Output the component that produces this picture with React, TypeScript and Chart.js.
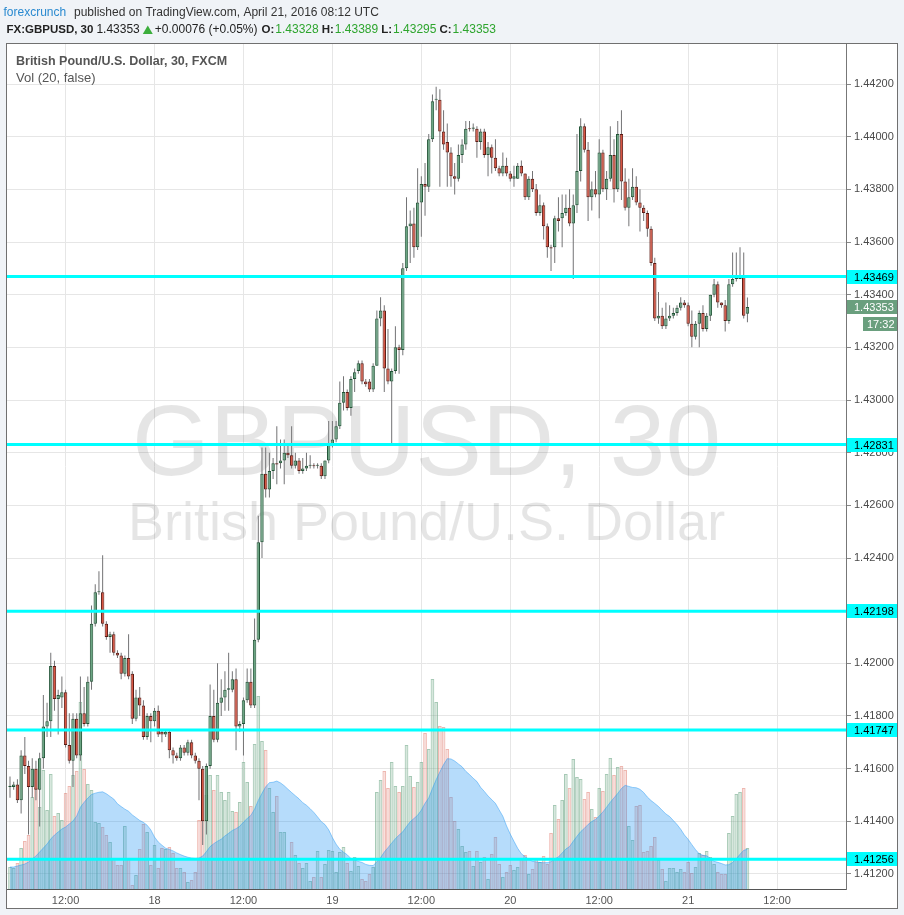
import React, { useEffect, useRef } from "react";
import { Chart, registerables } from "chart.js";

Chart.register(...registerables);

// ---------- data (30-minute candles, GBPUSD) ----------
const open = [
  1.4153, 1.4153, 1.4154, 1.4148, 1.4165, 1.4161, 1.4153, 1.416, 1.4152, 1.4164,
  1.4176, 1.4178, 1.4199, 1.41865, 1.4187, 1.4189, 1.4169, 1.4163, 1.4179, 1.4165,
  1.4181, 1.4177, 1.4193, 1.4215, 1.4227, 1.4227, 1.4215, 1.421, 1.4211, 1.4204,
  1.4203, 1.4196, 1.4202, 1.4196, 1.4179, 1.4187, 1.4184, 1.4172, 1.418, 1.4178,
  1.4182, 1.4174, 1.4173, 1.4174, 1.4167, 1.4165, 1.4164, 1.4168, 1.4166, 1.417,
  1.4165, 1.4163, 1.416, 1.414, 1.4161, 1.418, 1.4171, 1.4185, 1.4187, 1.419,
  1.419, 1.4194, 1.4176, 1.4177, 1.4186, 1.4193, 1.4184, 1.4209, 1.4246, 1.4272,
  1.4266, 1.4273, 1.4276, 1.4276, 1.4277, 1.428, 1.4279, 1.4275, 1.4277, 1.4273,
  1.4274, 1.4275, 1.4275, 1.4275, 1.4275, 1.4271, 1.4277, 1.4283, 1.4285, 1.429,
  1.4299, 1.4303, 1.4297, 1.4308, 1.4311, 1.4314, 1.4307, 1.4307, 1.4304, 1.4313,
  1.4331, 1.4334, 1.4312, 1.4307, 1.4311, 1.432, 1.4319, 1.435, 1.4366, 1.4367,
  1.4358, 1.4375, 1.4382, 1.4381, 1.4399, 1.4414, 1.4414, 1.4402, 1.4398, 1.4394,
  1.4385, 1.4384, 1.4393, 1.4397, 1.4403, 1.4403, 1.4403, 1.4398, 1.4402, 1.4393,
  1.4396, 1.4392, 1.4388, 1.4386, 1.4389, 1.4386, 1.4384, 1.4384, 1.4389, 1.4386,
  1.4377, 1.4384, 1.438, 1.4371, 1.4374, 1.4366, 1.4358, 1.4358, 1.4369, 1.4369,
  1.4371, 1.4373, 1.4367, 1.4374, 1.4387, 1.4404, 1.4395, 1.4377, 1.438, 1.4378,
  1.4394, 1.438, 1.4384, 1.4393, 1.438, 1.4401, 1.4383, 1.4373, 1.4377, 1.4381,
  1.4375, 1.4373, 1.4371, 1.4365, 1.4352, 1.4331, 1.4332, 1.4328, 1.4331, 1.4332,
  1.4333, 1.4335, 1.4337, 1.4336, 1.4329, 1.4324, 1.4329, 1.4333, 1.4327, 1.4332,
  1.434, 1.4344, 1.4337, 1.4336, 1.433, 1.4344, 1.4346, 1.4346, 1.4347, 1.43328,
];
const high = [
  1.4157, 1.4155, 1.4156, 1.4167, 1.4172, 1.4163, 1.4164, 1.4163, 1.4166, 1.4188,
  1.4185, 1.4204, 1.4201, 1.419, 1.4195, 1.419, 1.4181, 1.4181, 1.4181, 1.4195,
  1.4191, 1.4195, 1.4222, 1.423, 1.4235, 1.4241, 1.4216, 1.4212, 1.4212, 1.4205,
  1.4204, 1.4203, 1.4211, 1.4197, 1.419, 1.4191, 1.4186, 1.4181, 1.4181, 1.4183,
  1.4184, 1.4175, 1.4175, 1.4175, 1.4168, 1.4166, 1.4169, 1.4169, 1.4171, 1.4171,
  1.4166, 1.4164, 1.4161, 1.4162, 1.4192, 1.419, 1.42, 1.4194, 1.4197, 1.4204,
  1.4197, 1.4198, 1.4178, 1.4187, 1.4198, 1.4198, 1.4217, 1.4256, 1.4282, 1.4282,
  1.428, 1.4278, 1.429, 1.4285, 1.4285, 1.4283, 1.429, 1.428, 1.4278, 1.4278,
  1.428, 1.4279, 1.4276, 1.4276, 1.4276, 1.4277, 1.4292, 1.4292, 1.4292, 1.4307,
  1.4309, 1.4304, 1.4309, 1.4312, 1.4315, 1.4315, 1.4308, 1.4308, 1.4314, 1.4334,
  1.4339, 1.4336, 1.4327, 1.4312, 1.4328, 1.4321, 1.4352, 1.4377, 1.4372, 1.4373,
  1.4388, 1.4385, 1.439, 1.4401, 1.4416, 1.4419, 1.4418, 1.441, 1.4405, 1.4396,
  1.439, 1.4397, 1.4399, 1.4406, 1.4406, 1.4405, 1.4404, 1.4403, 1.4403, 1.4398,
  1.4397, 1.4399, 1.4389, 1.4394, 1.4392, 1.4387, 1.4389, 1.439, 1.4391, 1.4386,
  1.4385, 1.4387, 1.4382, 1.4378, 1.4375, 1.4367, 1.4359, 1.437, 1.4377, 1.4378,
  1.4378, 1.438, 1.4378, 1.4401, 1.4407, 1.4405, 1.4398, 1.4383, 1.4387, 1.4399,
  1.4395, 1.4387, 1.4404, 1.4399, 1.4406, 1.441, 1.4388, 1.4384, 1.4388, 1.4385,
  1.438, 1.4374, 1.4372, 1.4366, 1.4354, 1.4341, 1.4335, 1.4337, 1.4336, 1.4335,
  1.4336, 1.4339, 1.4338, 1.4337, 1.4334, 1.433, 1.4334, 1.4336, 1.4333, 1.434,
  1.4346, 1.4345, 1.4337, 1.4338, 1.4346, 1.4356, 1.4356, 1.4358, 1.4356, 1.43389,
];
const low = [
  1.4149, 1.4152, 1.4147, 1.4143, 1.4158, 1.4135, 1.4149, 1.4148, 1.4138, 1.416,
  1.4172, 1.4172, 1.4182, 1.4173, 1.4183, 1.4168, 1.4162, 1.4153, 1.4164, 1.4163,
  1.4176, 1.4176, 1.419, 1.4214, 1.4226, 1.4214, 1.4209, 1.4204, 1.4203, 1.4202,
  1.4194, 1.4195, 1.4194, 1.4177, 1.4178, 1.418, 1.4171, 1.4171, 1.417, 1.4176,
  1.4172, 1.417, 1.4172, 1.4164, 1.4162, 1.4163, 1.4163, 1.4165, 1.4165, 1.4164,
  1.4162, 1.4148, 1.4131, 1.4135, 1.416, 1.417, 1.417, 1.418, 1.4182, 1.4182,
  1.4189, 1.4167, 1.4174, 1.4165, 1.4185, 1.4183, 1.4183, 1.4208, 1.424, 1.4263,
  1.4263, 1.427, 1.4268, 1.4274, 1.4268, 1.4278, 1.4274, 1.4274, 1.4272, 1.4272,
  1.4273, 1.4274, 1.4274, 1.4274, 1.427, 1.427, 1.4276, 1.4282, 1.4284, 1.4289,
  1.4296, 1.4296, 1.4294, 1.4303, 1.431, 1.4306, 1.4305, 1.4303, 1.4303, 1.4313,
  1.4328, 1.4303, 1.4306, 1.4283, 1.431, 1.431, 1.4317, 1.4349, 1.4352, 1.4354,
  1.4357, 1.4362, 1.437, 1.4379, 1.4398, 1.441, 1.4381, 1.4395, 1.4381, 1.4381,
  1.4378, 1.4383, 1.439, 1.4395, 1.4402, 1.4402, 1.4392, 1.4395, 1.4392, 1.4385,
  1.4386, 1.4387, 1.4385, 1.4385, 1.4385, 1.4383, 1.4381, 1.4384, 1.4385, 1.4376,
  1.4376, 1.4379, 1.437, 1.437, 1.4361, 1.4354, 1.4349, 1.4352, 1.4364, 1.4358,
  1.437, 1.4366, 1.4346, 1.4371, 1.4383, 1.4394, 1.4368, 1.4372, 1.4377, 1.4369,
  1.4379, 1.4376, 1.4383, 1.4375, 1.4379, 1.4376, 1.4372, 1.4366, 1.4376, 1.4374,
  1.4364, 1.4368, 1.4362, 1.4351, 1.433, 1.4329, 1.4327, 1.4327, 1.433, 1.4331,
  1.4332, 1.4334, 1.4335, 1.4328, 1.432, 1.4323, 1.432, 1.4326, 1.4326, 1.433,
  1.4339, 1.4335, 1.4335, 1.4326, 1.4329, 1.4343, 1.4345, 1.4346, 1.4331, 1.43295,
];
const close = [
  1.41535, 1.4154, 1.4148, 1.4165, 1.4161, 1.4153, 1.416, 1.4152, 1.4164, 1.4176,
  1.4178, 1.4199, 1.41865, 1.4188, 1.4189, 1.4169, 1.4163, 1.4179, 1.4165, 1.4181,
  1.4177, 1.4193, 1.4215, 1.4227, 1.42272, 1.4215, 1.421, 1.4211, 1.4204, 1.4203,
  1.4196, 1.4202, 1.4195, 1.4179, 1.4187, 1.4184, 1.4172, 1.418, 1.4178, 1.4182,
  1.4173, 1.4173, 1.4174, 1.4167, 1.4165, 1.4164, 1.4168, 1.4166, 1.417, 1.4165,
  1.4163, 1.416, 1.414, 1.4161, 1.418, 1.4171, 1.4185, 1.4187, 1.419, 1.41905,
  1.4194, 1.4176, 1.4177, 1.4186, 1.4193, 1.4184, 1.4209, 1.4246, 1.4272, 1.4266,
  1.4273, 1.4276, 1.42755, 1.4277, 1.428, 1.4279, 1.4275, 1.4277, 1.4273, 1.4274,
  1.4275, 1.42752, 1.42748, 1.42752, 1.4271, 1.4277, 1.4283, 1.4285, 1.429, 1.4299,
  1.4303, 1.4297, 1.4308, 1.43105, 1.4314, 1.4307, 1.4306, 1.4304, 1.4313, 1.4331,
  1.4334, 1.4312, 1.4307, 1.4311, 1.432, 1.4319, 1.435, 1.4366, 1.4367, 1.4358,
  1.4375, 1.4382, 1.4381, 1.4399, 1.44135, 1.44142, 1.4402, 1.4397, 1.4394, 1.4385,
  1.4384, 1.4393, 1.4397, 1.4403, 1.44028, 1.44035, 1.4398, 1.4402, 1.4393, 1.4396,
  1.4392, 1.4388, 1.4386, 1.4389, 1.4386, 1.4384, 1.4385, 1.4389, 1.4386, 1.4377,
  1.4384, 1.438, 1.4371, 1.4374, 1.4366, 1.4358, 1.43575, 1.4369, 1.4368, 1.4371,
  1.4373, 1.4367, 1.4374, 1.4387, 1.4404, 1.4395, 1.4377, 1.438, 1.4378, 1.4394,
  1.438, 1.4384, 1.4393, 1.438, 1.4401, 1.4383, 1.4373, 1.4377, 1.4381, 1.4375,
  1.4373, 1.4371, 1.4365, 1.4352, 1.4331, 1.4332, 1.4328, 1.4331, 1.4332, 1.4333,
  1.4335, 1.4337, 1.4336, 1.4329, 1.4324, 1.4329, 1.4333, 1.4327, 1.4332, 1.434,
  1.4344, 1.4337, 1.4336, 1.433, 1.4344, 1.4346, 1.43462, 1.4347, 1.4332, 1.43353,
];
// volume per candle (relative units)
const volume = [
  22, 21, 26, 41, 48, 54, 92, 101, 82, 119, 79, 115, 73, 76, 69, 96, 103, 114, 118, 187,
  120, 105, 99, 67, 66, 62, 54, 47, 30, 24, 24, 63, 30, 4, 14,
  40, 65, 57, 24, 44, 21, 41, 40, 42, 36, 21, 21, 17, 7, 9, 17, 69, 69, 94, 114,
  99, 114, 97, 89, 97, 78, 77, 87, 127, 107, 83, 145, 193, 148, 139,
  101, 77, 93, 57, 57, 30, 47, 34, 26, 21, 26, 8, 12, 38, 12, 25, 39, 38, 17, 37,
  42, 26, 18, 32, 23, 10, 8, 15, 22,
  97, 109, 118, 101, 127, 103, 97, 103, 144, 113, 102, 107, 127, 156, 140, 210, 187, 163, 162, 140,
  92, 68, 60, 43, 37, 38, 23, 38, 27, 32, 10, 35, 52, 25, 12, 17, 24, 19, 22, 30,
  34, 15, 20, 31, 27, 33, 25, 56, 84, 70, 89, 115, 101, 130, 112, 110, 90, 97, 80, 72,
  101, 98, 115, 131, 114, 122, 123, 119, 63, 49, 83, 84, 37, 38, 43, 52, 29, 20, 8, 21,
  21, 17, 20, 17, 27, 16, 22, 36, 34, 38, 32, 25, 17, 15, 15, 56, 73, 95, 97, 101, 41,
];
// Vol(20) average as drawn for the first candles (its window starts before the visible data)
const volMaStart = [22, 22, 23, 24, 25, 27, 30, 33, 37, 41, 45, 50, 54, 57, 60, 62, 65, 68, 73];
const MA_LEN = 20;

const levels = [1.43469, 1.42831, 1.42198, 1.41747, 1.41256];
const priceTicks = [
  1.412, 1.414, 1.416, 1.418, 1.42, 1.422, 1.424, 1.426, 1.428, 1.43, 1.432, 1.434, 1.436, 1.438, 1.44, 1.442,
];
const timeTickIndex = [15, 39, 63, 87, 111, 135, 159, 183, 207];
const timeTickLabels = ["12:00", "18", "12:00", "19", "12:00", "20", "12:00", "21", "12:00"];
const lastPrice = 1.43353;
const countdown = "17:32";

const headerPublisher = "forexcrunch";
const headerRest = "published on TradingView.com, April 21, 2016 08:12 UTC";
const symbolTitle = "FX:GBPUSD, 30";
const change = "+0.00076 (+0.05%)";
const ohlcHeader = [
  ["O:", "1.43328"],
  ["H:", "1.43389"],
  ["L:", "1.43295"],
  ["C:", "1.43353"],
];
const paneTitle = "British Pound/U.S. Dollar, 30, FXCM";
const volTitle = "Vol (20, false)";
const watermark1 = "GBPUSD, 30";
const watermark2 = "British Pound/U.S. Dollar";

// ---------- styles ----------
const FONT = '"Liberation Sans", Arial, sans-serif';
const BG = "#f0f3f7";
const UP = "#6ba583";
const DOWN = "#d75442";
const UP_BORDER = "#225437";
const DOWN_BORDER = "#5b1a13";
const WICK = "#737375";
const GRID = "#e6e6e6";
const CYAN = "#00ffff";
const LAST_BG = "#6a9f7e";
const GREEN_TXT = "#2ea52e";

const idx = open.map((_, i) => i);
const isUp = idx.map((i) => close[i] >= open[i]);
const volMa = idx.map((i) => {
  if (i < MA_LEN - 1) return volMaStart[i];
  let s = 0;
  for (let k = i - MA_LEN + 1; k <= i; k++) s += volume[k];
  return s / MA_LEN;
});

const tvPlugin = {
  id: "tvDecor",
  beforeDraw(chart: any) {
    const { ctx, width, height } = chart;
    ctx.save();
    ctx.fillStyle = BG;
    ctx.fillRect(0, 0, width, height);
    ctx.fillStyle = "#ffffff";
    ctx.fillRect(6, 43, 891, 865);
    ctx.strokeStyle = "#707070";
    ctx.lineWidth = 1;
    ctx.strokeRect(6.5, 43.5, 891, 865);
    ctx.restore();
  },
  beforeDatasetsDraw(chart: any) {
    const { ctx, chartArea } = chart;
    const cx = (chartArea.left + chartArea.right) / 2;
    ctx.save();
    ctx.fillStyle = "rgba(0,0,0,0.1)";
    ctx.textAlign = "center";
    ctx.textBaseline = "alphabetic";
    ctx.font = `100px ${FONT}`;
    ctx.fillText(watermark1, cx, 475);
    ctx.font = `54px ${FONT}`;
    ctx.fillText(watermark2, cx, 540);
    ctx.restore();
  },
  afterDatasetsDraw(chart: any) {
    const { ctx, chartArea, scales } = chart;
    ctx.save();
    ctx.strokeStyle = CYAN;
    ctx.lineWidth = 3;
    levels.forEach((lv) => {
      const y = scales.y.getPixelForValue(lv);
      ctx.beginPath();
      ctx.moveTo(chartArea.left, y);
      ctx.lineTo(chartArea.right, y);
      ctx.stroke();
    });
    ctx.restore();
  },
  afterDraw(chart: any) {
    const { ctx, chartArea, scales } = chart;
    const axL = chartArea.right;
    ctx.save();
    ctx.font = `11px ${FONT}`;
    ctx.textBaseline = "middle";
    ctx.textAlign = "left";
    levels.forEach((lv) => {
      const y = Math.round(scales.y.getPixelForValue(lv));
      ctx.fillStyle = CYAN;
      ctx.fillRect(axL + 1, y - 7, 50, 14);
      ctx.fillStyle = "#000";
      ctx.fillText(lv.toFixed(5), axL + 8, y + 0.5);
    });
    const yl = Math.round(scales.y.getPixelForValue(lastPrice));
    ctx.fillStyle = LAST_BG;
    ctx.fillRect(axL + 1, yl - 7, 50, 14);
    ctx.fillRect(axL + 17, yl + 10, 34, 14);
    ctx.fillStyle = "#fff";
    ctx.fillText(lastPrice.toFixed(5), axL + 8, yl + 0.5);
    ctx.fillText(countdown, axL + 21, yl + 17.5);

    // pane titles
    ctx.textBaseline = "alphabetic";
    ctx.fillStyle = "#555";
    ctx.font = `bold 12.5px ${FONT}`;
    ctx.fillText(paneTitle, 16, 65);
    ctx.font = `13px ${FONT}`;
    ctx.fillText(volTitle, 16, 82);

    // header line 1
    ctx.font = `12px ${FONT}`;
    ctx.fillStyle = "#2a8ad0";
    ctx.fillText(headerPublisher, 3.5, 15.5);
    ctx.fillStyle = "#333";
    ctx.fillText(headerRest, 74, 15.5);

    // header line 2 (pieces placed one after another)
    const by = 33.3;
    let x = 6.5;
    ctx.font = `bold 11.5px ${FONT}`;
    ctx.fillStyle = "#222";
    ctx.fillText(symbolTitle, x, by);
    x += ctx.measureText(symbolTitle).width + 3;
    ctx.font = `12px ${FONT}`;
    ctx.fillText(lastPrice.toFixed(5), x, by);
    x += ctx.measureText(lastPrice.toFixed(5)).width + 3;
    ctx.fillStyle = "#3cae3c";
    ctx.beginPath();
    ctx.moveTo(x, 34);
    ctx.lineTo(x + 10, 34);
    ctx.lineTo(x + 5, 25.5);
    ctx.closePath();
    ctx.fill();
    x += 12;
    ctx.fillStyle = "#222";
    ctx.fillText(change, x, by);
    x += ctx.measureText(change).width + 4;
    ohlcHeader.forEach(([k, v]) => {
      ctx.font = `bold 11.5px ${FONT}`;
      ctx.fillStyle = "#222";
      ctx.fillText(k, x, by);
      x += ctx.measureText(k).width + 1;
      ctx.font = `12px ${FONT}`;
      ctx.fillStyle = GREEN_TXT;
      ctx.fillText(v, x, by);
      x += ctx.measureText(v).width + 3;
    });
    ctx.restore();
  },
};

export default function App() {
  const ref = useRef<HTMLCanvasElement>(null);

  useEffect(() => {
    document.body.style.margin = "0";
    document.body.style.background = BG;
    const canvas = ref.current!;

    const chart = new Chart(canvas, {
      type: "bar",
      data: {
        datasets: [
          {
            type: "bar",
            label: "Volume",
            yAxisID: "vol",
            data: idx.map((i) => ({ x: i, y: volume[i] })),
            backgroundColor: idx.map((i) => (isUp[i] ? "rgba(107,165,131,0.27)" : "rgba(215,84,66,0.18)")),
            borderColor: idx.map((i) => (isUp[i] ? "rgba(107,165,131,0.6)" : "rgba(215,84,66,0.42)")),
            borderWidth: 1,
            barPercentage: 1,
            categoryPercentage: 1,
            grouped: false,
            inflateAmount: 0,
            order: 5,
          } as any,
          {
            type: "line",
            label: "Vol MA",
            yAxisID: "vol",
            data: idx.map((i) => ({ x: i, y: volMa[i] })),
            borderColor: "rgba(33,150,243,0.45)",
            backgroundColor: "rgba(33,150,243,0.33)",
            borderWidth: 1,
            fill: "origin",
            pointRadius: 0,
            tension: 0,
            order: 4,
          } as any,
          {
            type: "bar",
            label: "Wick",
            yAxisID: "y",
            data: idx.map((i) => ({ x: i, y: [low[i], high[i]] })),
            backgroundColor: WICK,
            barThickness: 1,
            grouped: false,
            inflateAmount: 0,
            minBarLength: 1,
            order: 3,
          } as any,
          {
            type: "bar",
            label: "Body",
            yAxisID: "y",
            data: idx.map((i) => ({ x: i, y: [open[i], close[i]] })),
            backgroundColor: idx.map((i) => (isUp[i] ? UP : DOWN)),
            borderColor: idx.map((i) => (isUp[i] ? UP_BORDER : DOWN_BORDER)),
            borderWidth: 1,
            borderSkipped: false,
            barThickness: 3.4,
            minBarLength: 1,
            grouped: false,
            inflateAmount: 0,
            order: 2,
          } as any,
        ],
      },
      options: {
        responsive: false,
        animation: false,
        devicePixelRatio: 1,
        events: [],
        layout: { padding: { left: 7, top: 44, right: 7, bottom: 7 } },
        plugins: { legend: { display: false }, tooltip: { enabled: false } },
        scales: {
          x: {
            type: "linear",
            offset: false,
            min: -0.81,
            max: 225.6,
            afterBuildTicks: (s: any) => {
              s.ticks = timeTickIndex.map((v) => ({ value: v }));
            },
            afterFit: (s: any) => {
              s.height = 19;
            },
            ticks: {
              autoSkip: false,
              maxRotation: 0,
              padding: 5,
              color: "#555",
              font: { family: FONT, size: 11 },
              callback: (_v: any, i: number) => timeTickLabels[i],
            },
            grid: { color: GRID, drawTicks: false, offset: false },
            border: { color: "#555" },
          } as any,
          y: {
            type: "linear",
            position: "right",
            min: 1.41143,
            max: 1.44352,
            beginAtZero: false,
            afterBuildTicks: (s: any) => {
              s.ticks = priceTicks.map((v) => ({ value: v }));
            },
            afterFit: (s: any) => {
              s.width = 51;
            },
            ticks: {
              padding: 3,
              color: "#4a4a4a",
              font: { family: FONT, size: 11 },
              callback: (v: any) => Number(v).toFixed(5),
            },
            grid: { color: GRID, tickLength: 5, tickColor: "#888" },
            border: { color: "#777" },
          } as any,
          vol: {
            type: "linear",
            display: false,
            min: 0,
            max: 845,
          } as any,
        },
      },
      plugins: [tvPlugin],
    });

    return () => chart.destroy();
  }, []);

  return (
    <canvas
      ref={ref}
      width={904}
      height={915}
      style={{ display: "block", width: "904px", height: "915px" }}
    />
  );
}
